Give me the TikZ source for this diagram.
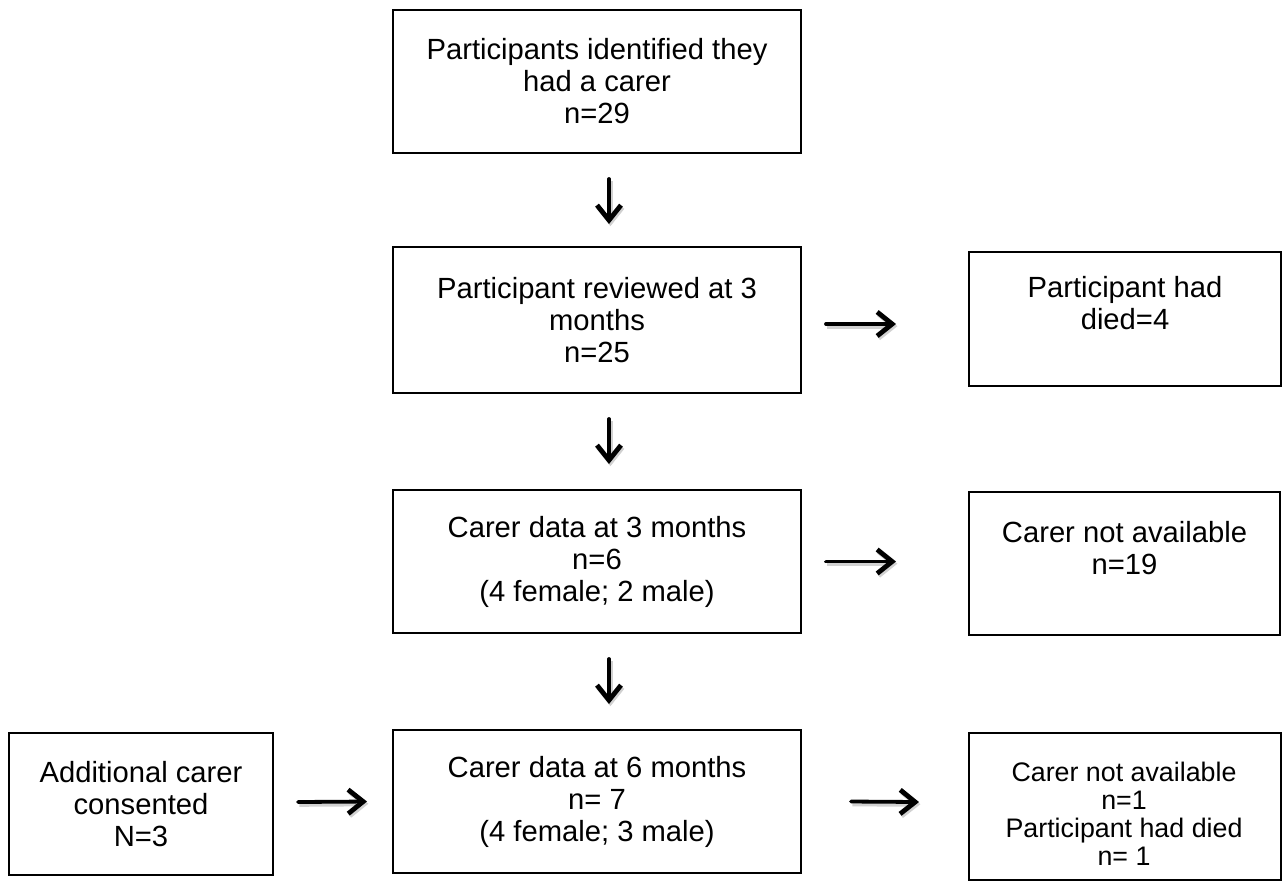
\documentclass[tikz,border=0pt]{standalone}
\usepackage{fontspec}
\setmainfont{Liberation Sans}
\usetikzlibrary{arrows.meta}
\begin{document}
\begin{tikzpicture}[x=0.5pt,y=-0.5pt,
  box/.style={draw=black, line width=1pt, inner sep=0pt, align=center,
    font=\fontsize{14.6}{16}\selectfont},
  smalltext/.style={inner sep=0pt, align=center, font=\fontsize{13.4}{14}\selectfont},
  arr/.style={line width=1.9pt, line cap=round,
    -{Straight Barb[length=7.5pt,width=12pt,line width=2.4pt]},
    preaction={draw=black!18, line width=2.6pt,
      transform canvas={shift={(0.7pt,-1.1pt)}}}}
]
\useasboundingbox[fill=white] (0,0) rectangle (1283,885);

\node[box, minimum width=204pt, minimum height=71.5pt] (b1) at (597,81.5)
  {Participants identified they\\had a carer\\n=29};
\node[box, minimum width=204pt, minimum height=73pt] (b2) at (597,320)
  {Participant reviewed at 3\\months\\n=25};
\node[box, minimum width=204pt, minimum height=71.5pt] (b3) at (597,561.5)
  {Carer data at 3 months\\n=6\\(4 female; 2 male)};
\node[box, minimum width=204pt, minimum height=71.5pt] (b4) at (597,801.5)
  {Carer data at 6 months\\n= 7\\(4 female; 3 male)};

\node[box, minimum width=156pt, minimum height=67pt] (r1) at (1125,319)
  {Participant had\\died=4\\\mbox{}};
\node[box, minimum width=155.5pt, minimum height=71.5pt] (r2) at (1124.5,563.5)
  {Carer not available\\n=19\\\mbox{}};
\node[box, minimum width=156pt, minimum height=73.5pt] (r3) at (1125,806.5) {};
\node[smalltext] (r3t) at (1124,814)
  {Carer not available\\n=1\\Participant had died\\n= 1};

\node[box, minimum width=132pt, minimum height=71pt] (l1) at (141,804)
  {Additional carer\\consented\\N=3};

\draw[arr] ([xshift=6pt,yshift=-12.5pt]b1.south) -- ([xshift=6pt,yshift=11pt]b2.north);
\draw[arr] ([xshift=6pt,yshift=-12.5pt]b2.south) -- ([xshift=6pt,yshift=12.5pt]b3.north);
\draw[arr] ([xshift=6pt,yshift=-12.5pt]b3.south) -- ([xshift=6pt,yshift=12.5pt]b4.north);

\draw[arr] ([xshift=12pt,yshift=-2pt]b2.east) -- ([xshift=-36pt,yshift=-2.5pt]r1.west);
\draw[arr] ([xshift=12pt]b3.east) -- ([xshift=-36pt,yshift=1pt]r2.west);
\draw[arr] ([xshift=12pt,yshift=1pt]l1.east) -- ([xshift=-12.5pt]b4.west);
\draw[arr] ([xshift=24.5pt]b4.east) -- ([xshift=-24.5pt,yshift=2.25pt]r3.west);
\end{tikzpicture}
\end{document}
